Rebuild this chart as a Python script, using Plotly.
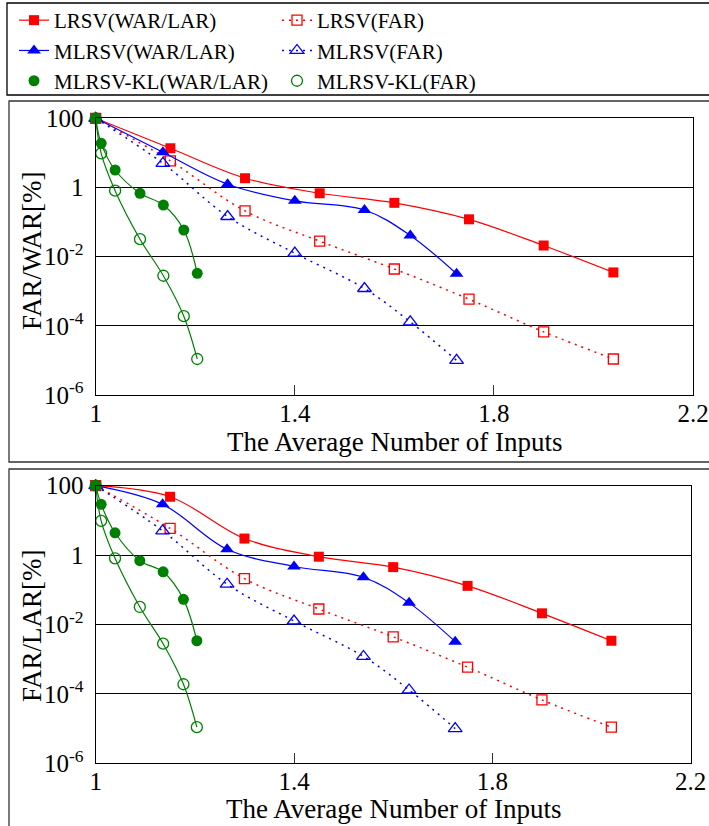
import plotly.graph_objects as go

# ---- data -------------------------------------------------------------
# average number of inputs for each method
x_lrsv = [1.0, 1.15, 1.30, 1.45, 1.60, 1.75, 1.90, 2.04]
x_mlrsv = [1.0, 1.135, 1.265, 1.40, 1.54, 1.632, 1.725]
x_kl = [1.0, 1.011, 1.039, 1.089, 1.136, 1.177, 1.204]

# error rates [%]
lrsv_war = [100, 13.6, 1.85, 0.68, 0.36, 0.12, 0.021, 0.0035]
lrsv_lar = [100, 48, 3.0, 0.9, 0.45, 0.13, 0.021, 0.0034]
lrsv_far = [100, 5.9, 0.21, 0.028, 0.0044, 5.9e-4, 6.7e-5, 1.1e-5]

mlrsv_war = [100, 10.4, 1.24, 0.41, 0.224, 0.041, 0.0032]
mlrsv_lar = [100, 29, 1.47, 0.47, 0.23, 0.042, 0.0032]
mlrsv_far = [100, 5.0, 0.145, 0.0126, 0.0012, 1.3e-4, 1.0e-5]

kl_war = [100, 18.9, 3.2, 0.68, 0.31, 0.059, 0.0033]
kl_lar = [100, 29, 4.4, 0.69, 0.33, 0.053, 0.0034]
kl_far = [100, 9.7, 0.81, 0.032, 0.0028, 1.9e-4, 1.1e-5]

y_tickvals = [1e2, 1, 1e-2, 1e-4, 1e-6]
y_ticktext = ["100", "1", "10<sup>-2</sup>", "10<sup>-4</sup>", "10<sup>-6</sup>"]
x_tickvals = [1.0, 1.4, 1.8, 2.2]
x_ticktext = ["1", "1.4", "1.8", "2.2"]

x_title = "The Average Number of Inputs"
y_titles = ["FAR/WAR[%]", "FAR/LAR[%]"]
names = ["LRSV(WAR/LAR)", "LRSV(FAR)", "MLRSV(WAR/LAR)", "MLRSV(FAR)",
         "MLRSV-KL(WAR/LAR)", "MLRSV-KL(FAR)"]

# ---- styling ----------------------------------------------------------
W, H = 709, 826
FONT = "Liberation Serif, Times New Roman, Times, serif"
RED, BLUE, GREEN = "#ff0000", "#0000ff", "#008000"
DOT = "2px,5px"


def px_x(v):
    return v / W


def px_y(v):
    return 1 - v / H


fig = go.Figure()

panels = [
    dict(xa="x", ya="y", war=(lrsv_war, mlrsv_war, kl_war), legend=True),
    dict(xa="x2", ya="y2", war=(lrsv_lar, mlrsv_lar, kl_lar), legend=False),
]

for p in panels:
    lw, mw, kw = p["war"]
    common = dict(xaxis=p["xa"], yaxis=p["ya"], cliponaxis=False,
                  line_shape="spline")
    fig.add_trace(go.Scatter(
        x=x_lrsv, y=lw, name=names[0], mode="lines+markers",
        line=dict(color=RED, width=1.2),
        marker=dict(symbol="square", size=10, color=RED),
        showlegend=p["legend"], **common))
    fig.add_trace(go.Scatter(
        x=x_lrsv, y=lrsv_far, name=names[1], mode="lines+markers",
        line=dict(color=RED, width=1.5, dash=DOT),
        marker=dict(symbol="square-open", size=10, color=RED,
                    line=dict(width=1.3)),
        showlegend=p["legend"], **common))
    fig.add_trace(go.Scatter(
        x=x_mlrsv, y=mw, name=names[2], mode="lines+markers",
        line=dict(color=BLUE, width=1.2),
        marker=dict(symbol="triangle-up", size=12, color=BLUE),
        showlegend=p["legend"], **common))
    fig.add_trace(go.Scatter(
        x=x_mlrsv, y=mlrsv_far, name=names[3], mode="lines+markers",
        line=dict(color=BLUE, width=1.5, dash=DOT),
        marker=dict(symbol="triangle-up-open", size=12, color=BLUE,
                    line=dict(width=1.3)),
        showlegend=p["legend"], **common))
    # KL curves: connecting lines first, then the markers on top
    for ys in (kw, kl_far):
        fig.add_trace(go.Scatter(
            x=x_kl, y=ys, mode="lines", line=dict(color=GREEN, width=1.2),
            showlegend=False, hoverinfo="skip", **common))
    fig.add_trace(go.Scatter(
        x=x_kl, y=kw, name=names[4], mode="markers",
        marker=dict(symbol="circle", size=11, color=GREEN),
        showlegend=p["legend"], xaxis=p["xa"], yaxis=p["ya"],
        cliponaxis=False))
    fig.add_trace(go.Scatter(
        x=x_kl, y=kl_far, name=names[5], mode="markers",
        marker=dict(symbol="circle-open", size=11, color=GREEN,
                    line=dict(width=1.3)),
        showlegend=p["legend"], xaxis=p["xa"], yaxis=p["ya"],
        cliponaxis=False))

xaxis_style = dict(
    range=[1.0, 2.2], tickmode="array", tickvals=x_tickvals,
    ticktext=x_ticktext, ticks="inside", ticklen=10, tickwidth=1,
    tickcolor="#333", showgrid=False, zeroline=False, showline=True,
    linecolor="black", linewidth=1.2, mirror=True, automargin=False,
    tickfont=dict(family=FONT, size=25, color="black"),
    ticklabelstandoff=-4,
)
yaxis_style = dict(
    type="log", range=[-6, 2], tickmode="array", tickvals=y_tickvals,
    ticktext=y_ticktext, ticks="", showgrid=True, gridcolor="black",
    gridwidth=1, zeroline=False, showline=True, linecolor="black",
    linewidth=1.2, mirror=True, automargin=False,
    tickfont=dict(family=FONT, size=25, color="black"),
    ticklabelstandoff=6,
)

fig.update_layout(
    width=W, height=H,
    margin=dict(l=0, r=0, t=0, b=0, pad=0),
    paper_bgcolor="white", plot_bgcolor="white",
    font=dict(family=FONT, color="black"),
    xaxis=dict(domain=[px_x(95.7), px_x(693)], anchor="y", **xaxis_style),
    yaxis=dict(domain=[px_y(395), px_y(118.3)], anchor="x", **yaxis_style),
    xaxis2=dict(domain=[px_x(95.7), px_x(690.7)], anchor="y2",
                **xaxis_style),
    yaxis2=dict(domain=[px_y(763.3), px_y(485.7)], anchor="x2",
                **yaxis_style),
    legend=dict(
        orientation="h", xref="paper", yref="paper",
        x=px_x(14), y=1, xanchor="left", yanchor="top",
        entrywidth=218, bgcolor="rgba(0,0,0,0)", borderwidth=0,
        font=dict(family=FONT, size=21, color="black"),
        traceorder="normal",
    ),
    showlegend=True,
)

# frames around the legend and the two panels
fig.add_shape(type="rect", xref="paper", yref="paper",
              x0=px_x(7), x1=1.02, y0=px_y(95), y1=px_y(3),
              line=dict(color="black", width=1.3), layer="below")
fig.add_shape(type="rect", xref="paper", yref="paper",
              x0=px_x(9), x1=1.02, y0=px_y(462), y1=px_y(101),
              line=dict(color="#333", width=1.3), layer="below")
fig.add_shape(type="rect", xref="paper", yref="paper",
              x0=px_x(9), x1=1.02, y0=-0.02, y1=px_y(469),
              line=dict(color="#333", width=1.3), layer="below")

# axis titles
for cx, cy in ((394, 442), (393, 809)):
    fig.add_annotation(text=x_title, xref="paper", yref="paper",
                       x=px_x(cx), y=px_y(cy), showarrow=False,
                       xanchor="center", yanchor="middle",
                       font=dict(family=FONT, size=27, color="black"))
for t, cy in zip(y_titles, (251, 626)):
    fig.add_annotation(text=t, xref="paper", yref="paper",
                       x=px_x(32), y=px_y(cy), showarrow=False,
                       textangle=-90, xanchor="center", yanchor="middle",
                       font=dict(family=FONT, size=27, color="black"))

fig.write_html("out.html")
